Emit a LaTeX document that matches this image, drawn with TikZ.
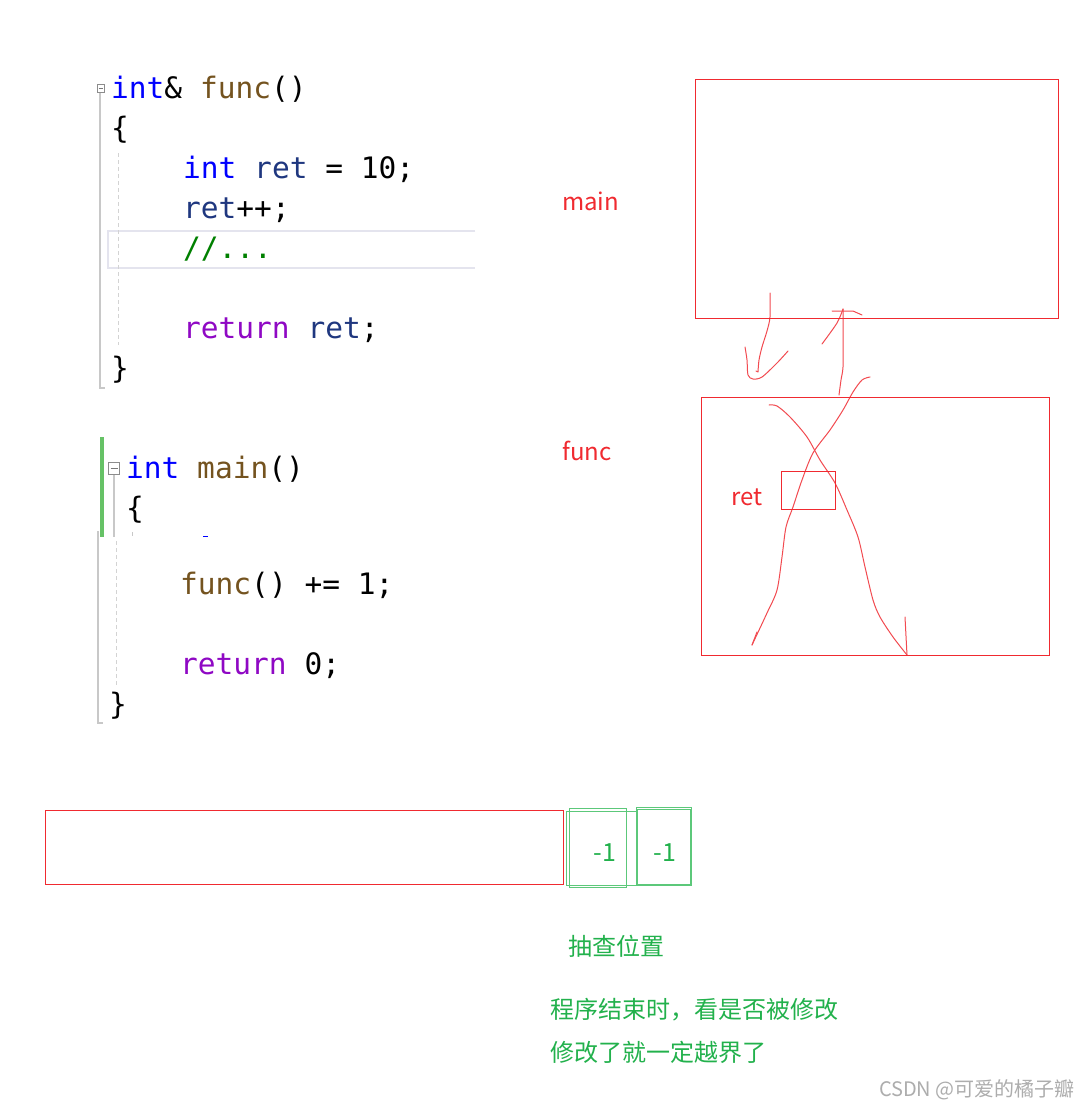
\documentclass[tikz,border=0pt]{standalone}
\usepackage{fontspec}
\newfontfamily\codefont{DejaVu Sans Mono}
\newfontfamily\cjk{Noto Sans CJK SC}
\definecolor{kwc}{HTML}{0000FF}
\definecolor{fnc}{HTML}{74531F}
\definecolor{varc}{HTML}{1F377F}
\definecolor{retc}{HTML}{8F08C4}
\definecolor{cmc}{HTML}{008000}
\definecolor{redc}{RGB}{240,42,48}
\definecolor{grnc}{HTML}{22B14C}
\definecolor{grnl}{HTML}{5CC87A}
\definecolor{handc}{HTML}{F24A50}
\definecolor{guide}{HTML}{C8C8C8}
\definecolor{hl}{HTML}{E4E4EE}
\definecolor{wm}{HTML}{ADADAD}
\begin{document}
\begin{tikzpicture}[x=1pt,y=-1pt,
  code/.style={anchor=base west, inner sep=0pt, font=\codefont\fontsize{29.5}{29.5}\selectfont},
  redbox/.style={draw=redc, line width=1.4pt},
  grnbox/.style={draw=grnl, line width=1pt},
  lbl/.style={font=\cjk\fontsize{24}{24}\selectfont, inner sep=0pt, anchor=west},
  grntxt/.style={lbl, text=grnc},
  hand/.style={draw=handc, line width=1pt, line cap=round, line join=round},
  guideline/.style={draw=guide, line width=1.2pt},
  dashguide/.style={draw=guide!80, line width=1pt, dash pattern=on 4pt off 3pt}]
\useasboundingbox (0,0) rectangle (1079,1108);
\fill[white] (0,0) rectangle (1079,1108);

% ---------- code block 1 ----------
\draw[draw=hl, line width=2pt] (475,231) -- (108,231) -- (108,268) -- (475,268);
\draw[guideline] (100,92) -- (100,388) -- (105,388);
\draw[dashguide] (118,153) -- (118,345);
\draw[draw=guide!70!black, line width=0.6pt] (97,84) rectangle (104,92);
\draw[guide!60!black, line width=0.6pt] (98.5,88) -- (102.5,88);
\node[code] (c1) at (111,98) {\textcolor{kwc}{int}\&\ \textcolor{fnc}{func}()};
\node[code] (c2) at (111,138) {\{};
\node[code] (c3) at (183,178) {\textcolor{kwc}{int} \textcolor{varc}{ret} = 10;};
\node[code] (c4) at (183,218) {\textcolor{varc}{ret}++;};
\node[code] (c5) at (183,258) {\textcolor{cmc}{//...}};
\node[code] (c6) at (183,338) {\textcolor{retc}{return} \textcolor{varc}{ret};};
\node[code] (c7) at (111,378) {\}};

% ---------- code block 2 ----------
\fill[green!60!black!60!white] (100,437) rectangle (104,537);
\draw[guideline] (114,475) -- (114,537);
\draw[guideline] (98,531) -- (98,723) -- (103,723);
\draw[dashguide] (116,541) -- (116,687);
\draw[guide, line width=0.8pt] (132,532) -- (132,536);
\draw[kwc, line width=1pt] (203,536) -- (208,536);
\draw[draw=guide!70!black, line width=0.6pt] (108.5,462) rectangle (119.5,474);
\draw[guide!60!black, line width=0.6pt] (110.5,468) -- (117.5,468);
\node[code] (d1) at (126,478) {\textcolor{kwc}{int} \textcolor{fnc}{main}()};
\node[code] (d2) at (126,518) {\{};
\node[code] (d3) at (180,594) {\textcolor{fnc}{func}() += 1;};
\node[code] (d4) at (180,674) {\textcolor{retc}{return} 0;};
\node[code] (d5) at (109,714) {\}};

% ---------- labels ----------
\node[lbl, text=redc] (lmain) at (562,201) {main};
\node[lbl, text=redc] (lfunc) at (562,451) {func};
\node[lbl, text=redc] (lret) at (731,497) {ret};

\node[font=\cjk\fontsize{25}{25}\selectfont, text=grnc, inner sep=0pt] (m1) at (605,853) {-1};
\node[font=\cjk\fontsize{25}{25}\selectfont, text=grnc, inner sep=0pt] (m2) at (665,853) {-1};

\node[grntxt] (t1) at (568,946) {抽查位置};
\node[grntxt] (t2) at (550,1010) {程序结束时，看是否被修改};
\node[grntxt] (t3) at (550,1052) {修改了就一定越界了};

\node[font=\cjk\fontsize{20}{20}\selectfont, text=wm, inner sep=0pt, anchor=east] (wmark) at (1075,1090) {CSDN @可爱的橘子瓣};

% ---------- bottom: buffer and canaries ----------
\draw[redbox] (45.5,810.5) coordinate (bufNW) rectangle (563.5,884.5) coordinate (bufSE);
\draw[grnbox] (566.5,811.5) rectangle (636.5,885.5);
\draw[grnbox] (569.5,808.5) rectangle (626.5,887.5);
\draw[grnbox] (636.5,807.5) rectangle (691.5,885.5);
\draw[grnbox] (637.5,809.5) rectangle (690.5,884.5);

% hand-drawn strokes
\draw[hand] plot[smooth] coordinates {(770,293) (770,317) (767,331) (762,347) (759,360) (758,372)} -- (756,371);
\draw[hand] plot[smooth] coordinates {(745,347) (747,360) (748,375) (753,379) (762,377) (777,363) (788,351)};
\draw[hand] plot[smooth] coordinates {(839,395) (841,380) (843,367) (843,340) (843,309)};
\draw[hand] (832,311) -- (853,311) -- (862,315);
\draw[hand] plot[smooth] coordinates {(843,309) (837,323) (822,344)};
\draw[hand] plot[smooth] coordinates {(870,377) (862,380) (853,392) (843,410) (830,430) (813,453) (802,480) (793,507) (786,527) (782,557) (777,590) (767,613) (752,645)};
\draw[hand] (757,632) -- (752,645);
\draw[hand] plot[smooth] coordinates {(769,405) (777,406) (790,417) (807,437) (820,460) (835,483) (847,510) (858,537) (865,567) (873,600) (880,617) (893,637) (907,655)};
\draw[hand] (905,617) -- (907,655);

% ---------- stack frames ----------
\draw[redbox] (695.5,79.5) coordinate (mainNW) rectangle (1058.5,318.5) coordinate (mainSE);
\draw[redbox] (701.5,397.5) coordinate (funcNW) rectangle (1049.5,655.5) coordinate (funcSE);
\draw[redbox] (781.5,471.5) coordinate (retNW) rectangle (835.5,509.5) coordinate (retSE);
\end{tikzpicture}
\end{document}
